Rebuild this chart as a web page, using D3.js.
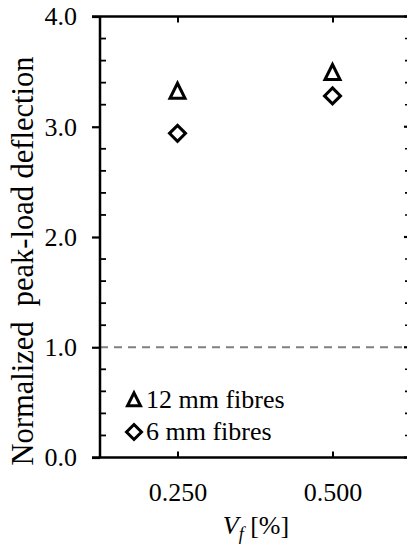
<!DOCTYPE html>
<html lang="en">
<head>
    <meta charset="UTF-8">
    <title>Normalized peak-load deflection</title>
    <script src="https://cdnjs.cloudflare.com/ajax/libs/d3/7.8.5/d3.min.js"></script>
    <style>
        body {
            margin: 0;
            background-color: white;
        }
        svg text {
            font-family: "Liberation Serif", "Times New Roman", serif;
            fill: black;
        }
    </style>
</head>
<body>
    <svg id="chart"></svg>

    <script>
        // Data
        const vf = [0.25, 0.5];
        const deflection12 = [3.32, 3.49];
        const deflection6 = [2.94, 3.28];
        const seriesNames = ["12 mm fibres", "6 mm fibres"];
        const xTicks = [0.25, 0.5];
        const xTickLabels = ["0.250", "0.500"];
        const yTicks = [0, 1, 2, 3, 4];
        const yMinorTicks = d3.range(0, 20).map(i => i * 0.2).filter(v => Math.abs(v - Math.round(v)) > 1e-6);
        const referenceLevel = 1.0;

        // Configuration
        const width = 407;
        const height = 549;
        const plotLeft = 100, plotRight = 410, plotTop = 16.5, plotBottom = 457.5;

        const svg = d3.select("#chart")
            .attr("width", width)
            .attr("height", height);

        const x = d3.scaleLinear().domain([0.125, 0.625]).range([plotLeft, plotRight]);
        const y = d3.scaleLinear().domain([0, 4]).range([plotBottom, plotTop]);

        // Reference dashed line
        svg.append("line")
            .attr("x1", plotLeft).attr("x2", width)
            .attr("y1", y(referenceLevel)).attr("y2", y(referenceLevel))
            .attr("stroke", "#808080")
            .attr("stroke-width", 2)
            .attr("stroke-dasharray", "8,6");

        // Left axis: major ticks outward, minor ticks inward
        const yAxis = svg.append("g")
            .attr("transform", `translate(${plotLeft},0)`)
            .call(d3.axisLeft(y).tickValues(yTicks).tickFormat(d3.format(".1f")).tickSize(8).tickPadding(15));
        yAxis.select(".domain").remove();
        yAxis.selectAll(".tick line").attr("stroke-width", 2.2);
        yAxis.selectAll(".tick text").style("font-size", "26px").style("font-family", "Liberation Serif, serif");

        svg.append("g")
            .selectAll("line")
            .data(yMinorTicks)
            .enter().append("line")
            .attr("x1", plotLeft).attr("x2", plotLeft + 6)
            .attr("y1", d => y(d)).attr("y2", d => y(d))
            .attr("stroke", "black")
            .attr("stroke-width", 1.8);

        // Right spine (mostly outside the picture): inward ticks
        svg.append("g")
            .selectAll("line")
            .data(yMinorTicks.concat(yTicks))
            .enter().append("line")
            .attr("x1", plotRight).attr("x2", d => yTicks.includes(d) ? plotRight - 6 : plotRight - 5)
            .attr("y1", d => y(d)).attr("y2", d => y(d))
            .attr("stroke", "black")
            .attr("stroke-width", d => yTicks.includes(d) ? 2.2 : 1.6);

        // Bottom axis with inward ticks
        const xAxis = svg.append("g")
            .attr("transform", `translate(0,${plotBottom})`)
            .call(d3.axisBottom(x).tickValues(xTicks).tickFormat((d, i) => xTickLabels[i]).tickSize(-6).tickPadding(25));
        xAxis.select(".domain").remove();
        xAxis.selectAll(".tick line").attr("stroke-width", 2);
        xAxis.selectAll(".tick text").style("font-size", "26px").style("font-family", "Liberation Serif, serif");

        // Top axis with inward ticks
        const topAxis = svg.append("g")
            .attr("transform", `translate(0,${plotTop})`)
            .call(d3.axisTop(x).tickValues(xTicks).tickFormat("").tickSize(-6));
        topAxis.select(".domain").remove();
        topAxis.selectAll(".tick line").attr("stroke-width", 2);

        // Frame lines
        svg.append("line")
            .attr("x1", plotLeft).attr("x2", plotLeft).attr("y1", plotTop).attr("y2", plotBottom)
            .attr("stroke", "black").attr("stroke-width", 2.5);
        svg.append("line")
            .attr("x1", plotLeft - 8).attr("x2", width).attr("y1", plotBottom).attr("y2", plotBottom)
            .attr("stroke", "black").attr("stroke-width", 2.5);
        svg.append("line")
            .attr("x1", plotLeft - 8).attr("x2", width).attr("y1", plotTop).attr("y2", plotTop)
            .attr("stroke", "black").attr("stroke-width", 2.5);

        // Marker shapes
        const triangle = (s) => `M0,${-s * 0.55}L${s / 2},${s * 0.45}L${-s / 2},${s * 0.45}Z`;
        const diamond = (s) => `M0,${-s / 2}L${s / 2},0L0,${s / 2}L${-s / 2},0Z`;

        svg.append("g")
            .selectAll("path")
            .data(vf.map((v, i) => ({ x: v, y: deflection12[i] })))
            .enter().append("path")
            .attr("d", triangle(15))
            .attr("transform", d => `translate(${x(d.x)},${y(d.y)})`)
            .attr("fill", "none")
            .attr("stroke", "black")
            .attr("stroke-width", 3);

        svg.append("g")
            .selectAll("path")
            .data(vf.map((v, i) => ({ x: v, y: deflection6[i] })))
            .enter().append("path")
            .attr("d", diamond(16))
            .attr("transform", d => `translate(${x(d.x)},${y(d.y)})`)
            .attr("fill", "none")
            .attr("stroke", "black")
            .attr("stroke-width", 3);

        // Legend
        const legend = svg.append("g");
        const legendShapes = [triangle(13), diamond(15)];
        seriesNames.forEach((name, i) => {
            const ly = 400 + i * 32;
            legend.append("path")
                .attr("d", legendShapes[i])
                .attr("transform", `translate(134,${ly})`)
                .attr("fill", "none")
                .attr("stroke", "black")
                .attr("stroke-width", 3);
            legend.append("text")
                .attr("x", 146)
                .attr("y", ly + 8)
                .style("font-size", "26px")
                .text(name);
        });

        // Axis labels
        svg.append("text")
            .attr("transform", "translate(33,261) rotate(-90)")
            .attr("text-anchor", "middle")
            .style("font-size", "30.5px")
            .style("white-space", "pre")
            .text("Normalized\u00a0 peak-load deflection");

        const xLabel = svg.append("text")
            .attr("x", 256)
            .attr("y", 534)
            .attr("text-anchor", "middle")
            .style("font-size", "26px");
        xLabel.append("tspan").style("font-style", "italic").text("V");
        xLabel.append("tspan").style("font-style", "italic").style("font-size", "18px").attr("dy", 6).text("f");
        xLabel.append("tspan").attr("dy", -6).text(" [%]");
    </script>
</body>
</html>
